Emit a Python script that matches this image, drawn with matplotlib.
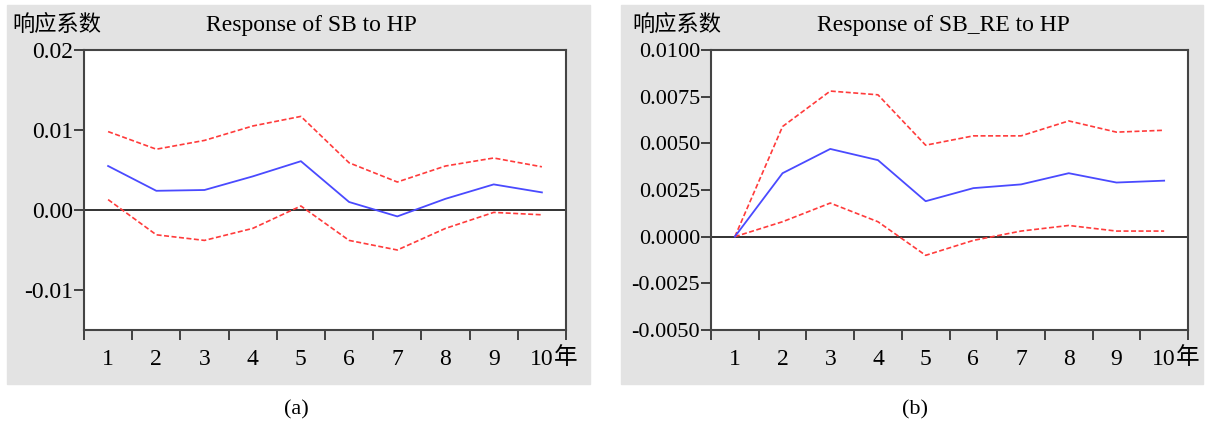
import matplotlib
matplotlib.use("Agg")
import matplotlib.pyplot as plt
from matplotlib.patches import Rectangle
import matplotlib.transforms as mtransforms
import numpy as np

# ---- data ----
periods = [1, 2, 3, 4, 5, 6, 7, 8, 9, 10]
period_labels = ["1", "2", "3", "4", "5", "6", "7", "8", "9", "10"]

sb_resp = [0.0055, 0.0024, 0.0025, 0.0042, 0.0061, 0.0010, -0.0008, 0.0014, 0.0032, 0.0022]
sb_upper = [0.0098, 0.0076, 0.0087, 0.0105, 0.0117, 0.0059, 0.0035, 0.0055, 0.0065, 0.0054]
sb_lower = [0.0013, -0.0031, -0.0038, -0.0023, 0.0005, -0.0038, -0.0050, -0.0023, -0.0003, -0.0006]

sbre_resp = [0.0, 0.0034, 0.0047, 0.0041, 0.0019, 0.0026, 0.0028, 0.0034, 0.0029, 0.0030]
sbre_upper = [0.0, 0.0059, 0.0078, 0.0076, 0.0049, 0.0054, 0.0054, 0.0062, 0.0056, 0.0057]
sbre_lower = [0.0, 0.0008, 0.0018, 0.0008, -0.0010, -0.0002, 0.0003, 0.0006, 0.0003, 0.0003]

left_yticks = [-0.01, 0.00, 0.01, 0.02]
left_ylabels = ["-0.01", "0.00", "0.01", "0.02"]
right_yticks = [-0.005, -0.0025, 0.0, 0.0025, 0.005, 0.0075, 0.01]
right_ylabels = ["-0.0050", "-0.0025", "0.0000", "0.0025", "0.0050", "0.0075", "0.0100"]

serif = "Liberation Serif"
cjk = ["Noto Sans CJK SC", "DejaVu Sans"]
grey = "#e3e3e3"
blue = "#4a4aff"
red = "#ff3b3b"

fig = plt.figure(figsize=(12.07, 4.22), dpi=100)

# grey panel backgrounds
fig.patches.append(Rectangle((7 / 1207, 38 / 422), 583 / 1207, 379 / 422,
                             transform=fig.transFigure, color=grey, zorder=-5))
fig.patches.append(Rectangle((621 / 1207, 38 / 422), 582 / 1207, 379 / 422,
                             transform=fig.transFigure, color=grey, zorder=-5))


def draw_panel(ax, resp, upper, lower, yticks, ylabels, ylim, ytick_size):
    ax.set_zorder(2)
    ax.set_facecolor("white")
    ax.plot(periods, upper, color=red, lw=1.2, ls=(0, (3, 1.5)))
    ax.plot(periods, lower, color=red, lw=1.2, ls=(0, (3, 1.5)))
    ax.plot(periods, resp, color=blue, lw=1.3)
    ax.axhline(0, color="#222222", lw=1.3, zorder=1)

    ax.set_xlim(0.5, 10.5)
    ax.set_ylim(*ylim)
    # boundary ticks between periods, labels at the period centres
    ax.set_xticks(np.arange(0.5, 11, 1.0))
    ax.set_xticklabels([])
    ax.set_xticks(periods, minor=True)
    ax.set_xticklabels(period_labels, minor=True, fontfamily=serif, fontsize=17)
    ax.tick_params(axis="x", which="major", direction="out", length=7, width=1.3, color="#333333")
    ax.tick_params(axis="x", which="minor", length=0, pad=14)

    ax.set_yticks(yticks)
    ax.set_yticklabels(ylabels, fontfamily=serif, fontsize=ytick_size)
    ax.tick_params(axis="y", direction="out", length=7, width=1.3, color="#333333", pad=1)

    for s in ax.spines.values():
        s.set_color("#444444")
        s.set_linewidth(1.5)

    # the "年" unit right after the last label
    trans = mtransforms.blended_transform_factory(ax.transData, ax.transAxes)
    ax.text(10.24, -0.1, "年", transform=trans, ha="left", va="center",
            fontfamily=cjk, fontsize=17, clip_on=False)


ax1 = fig.add_axes([84 / 1207, 92 / 422, 482 / 1207, 280 / 422])
draw_panel(ax1, sb_resp, sb_upper, sb_lower, left_yticks, left_ylabels, (-0.015, 0.02), 17)

ax2 = fig.add_axes([711 / 1207, 92 / 422, 477 / 1207, 280 / 422])
draw_panel(ax2, sbre_resp, sbre_upper, sbre_lower, right_yticks, right_ylabels, (-0.005, 0.01), 16)

# headers
fig.text(12 / 1207, 1 - 24 / 422, "响应系数", fontfamily=cjk, fontsize=16, ha="left", va="center")
fig.text(311 / 1207, 1 - 26 / 422, "Response of SB to HP", fontfamily=serif, fontsize=17,
         ha="center", va="center")
fig.text(632 / 1207, 1 - 24 / 422, "响应系数", fontfamily=cjk, fontsize=16, ha="left", va="center")
fig.text(943 / 1207, 1 - 26 / 422, "Response of SB_RE to HP", fontfamily=serif, fontsize=17,
         ha="center", va="center")

# sub-figure captions
fig.text(296 / 1207, 1 - 410 / 422, "(a)", fontfamily=serif, fontsize=16, ha="center", va="center")
fig.text(915 / 1207, 1 - 410 / 422, "(b)", fontfamily=serif, fontsize=16, ha="center", va="center")

fig.savefig("out.png", dpi=100, facecolor="white")
